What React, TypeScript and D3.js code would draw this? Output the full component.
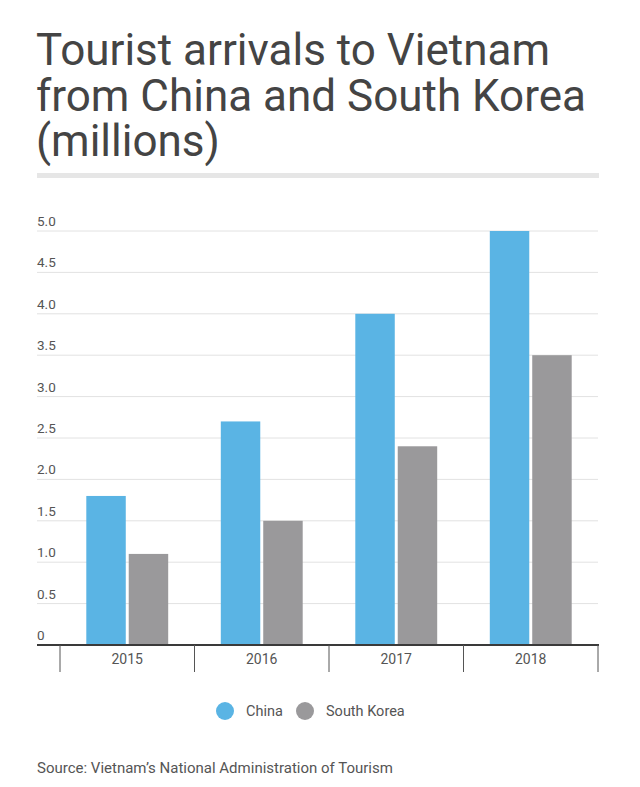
import * as d3 from 'd3';

const years = ['2015', '2016', '2017', '2018'];
const seriesNames = ['China', 'South Korea'];
const chinaValues = [1.8, 2.7, 4.0, 5.0];
const koreaValues = [1.1, 1.5, 2.4, 3.5];
const yTicks = [0, 0.5, 1, 1.5, 2, 2.5, 3, 3.5, 4, 4.5, 5];
const titleLines = ['Tourist arrivals to Vietnam', 'from China and South Korea', '(millions)'];
const sourceText = "Source: Vietnam\u2019s National Administration of Tourism";

const colors = ['#5ab4e4', '#9a999b'];
const font = 'Roboto, "Noto Sans", sans-serif';

const W = 640;
const H = 787;

export default function App() {
  const y = d3.scaleLinear().domain([0, 5]).range([645, 231]);
  const x0 = d3.scaleBand<string>().domain(years).range([60, 598]).padding(0);
  const x1 = d3
    .scaleBand<string>()
    .domain(seriesNames)
    .range([0, x0.bandwidth()])
    .paddingInner(0.07)
    .paddingOuter(0.62);

  const seriesValues = [chinaValues, koreaValues];

  return (
    <svg
      width={W}
      height={H}
      style={{ position: 'absolute', left: 0, top: 0, background: '#ffffff' }}
      fontFamily={font}
    >
      {/* title */}
      {titleLines.map((t, i) => (
        <text key={t} x={36} y={65 + i * 45.5} fontSize={44} fill="#444" fontWeight={400}>
          {t}
        </text>
      ))}
      <rect x={37} y={173} width={562} height={5} fill="#e6e6e6" />

      {/* gridlines + y labels */}
      {yTicks.map((t) => (
        <g key={t}>
          {t !== 0 && <line x1={37} x2={598} y1={y(t)} y2={y(t)} stroke="#e2e2e2" strokeWidth={1} />}
          <text x={37} y={y(t) - 5} fontSize={13.5} fill="#555">
            {t === 0 ? '0' : t.toFixed(1)}
          </text>
        </g>
      ))}

      {/* bars */}
      {years.map((yr, i) => (
        <g key={yr} transform={`translate(${x0(yr)},0)`}>
          {seriesNames.map((s, j) => (
            <rect
              key={s}
              x={x1(s)}
              width={x1.bandwidth()}
              y={y(seriesValues[j][i])}
              height={y(0) - y(seriesValues[j][i])}
              fill={colors[j]}
            />
          ))}
        </g>
      ))}

      {/* x axis */}
      <line x1={37} x2={599} y1={y(0)} y2={y(0)} stroke="#3a3a3a" strokeWidth={2} />
      {[...years.map((yr) => x0(yr) as number), 598].map((xv, i) => (
        <line key={i} x1={xv} x2={xv} y1={y(0)} y2={672} stroke="#555" strokeWidth={1} />
      ))}
      {years.map((yr) => (
        <text
          key={yr}
          x={(x0(yr) as number) + x0.bandwidth() / 2}
          y={664}
          textAnchor="middle"
          fontSize={14}
          fill="#555"
        >
          {yr}
        </text>
      ))}

      {/* legend */}
      <circle cx={225} cy={711} r={9} fill={colors[0]} />
      <text x={246} y={716} fontSize={14.5} fill="#555">{seriesNames[0]}</text>
      <circle cx={305} cy={711} r={9} fill={colors[1]} />
      <text x={326} y={716} fontSize={14.5} fill="#555">{seriesNames[1]}</text>

      {/* source */}
      <text x={37} y={773} fontSize={15} fill="#555">
        {sourceText}
      </text>
    </svg>
  );
}
